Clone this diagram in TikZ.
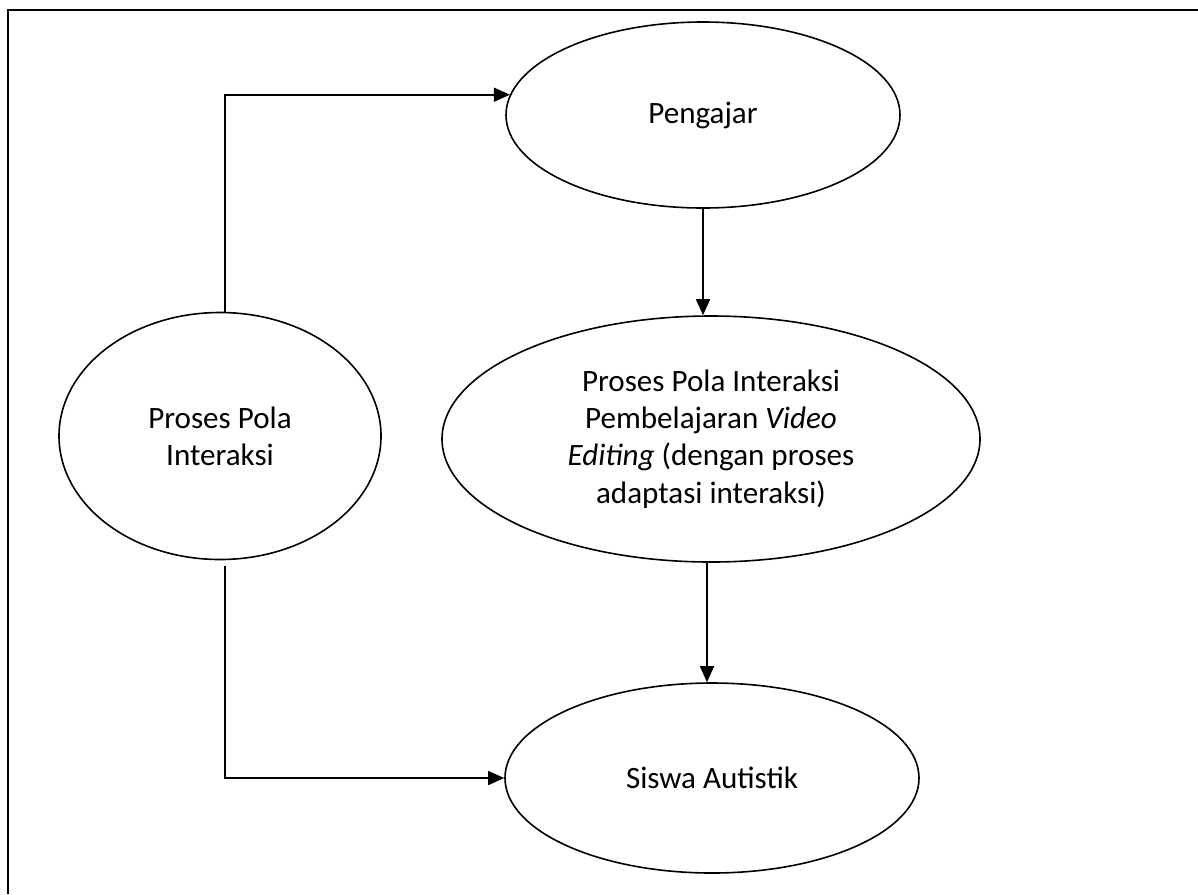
\documentclass[tikz,border=0pt]{standalone}
\usepackage{fontspec}
\setmainfont{Carlito}
\usetikzlibrary{shapes.geometric,arrows.meta}
\begin{document}
\begin{tikzpicture}[x=0.75pt,y=-0.75pt,
  oval/.style={draw, ellipse, line width=1.2pt, inner sep=0pt, align=center,
    font=\fontsize{23.3}{28}\selectfont},
  conn/.style={line width=1.2pt, -{Triangle[length=12pt,width=10.5pt]}}]
\useasboundingbox (0,0) rectangle (1198,894);
\draw[line width=1.8pt] (8,894) -- (8,10) -- (1198,10);
\node[oval, minimum width=295.5pt, minimum height=139.5pt] (peng) at (703,115) {\raisebox{-3pt}{Pengajar}};
\node[oval, minimum width=403.5pt, minimum height=184.5pt] (mid) at (711,439)
  {Proses Pola Interaksi\\Pembelajaran \textit{Video}\\\textit{Editing} (dengan proses\\adaptasi interaksi)};
\node[oval, minimum width=310.5pt, minimum height=142.5pt] (sis) at (712,778) {Siswa Autistik};
\node[oval, minimum width=241.5pt, minimum height=185.25pt] (lft) at (220,436) {Proses Pola\\Interaksi};
\coordinate (ltop) at ([xshift=3.75pt]lft.north);
\coordinate (lbot) at ([xshift=3.75pt,yshift=-4pt]lft.south);
\draw[conn] (ltop) |- (peng.174);
\draw[conn] (lbot) |- (sis.west);
\draw[conn] (peng.south) -- (peng.south |- mid.north);
\draw[conn] ([xshift=-3pt]mid.south) -- ([xshift=-3pt]mid.south |- sis.north);
\end{tikzpicture}
\end{document}
